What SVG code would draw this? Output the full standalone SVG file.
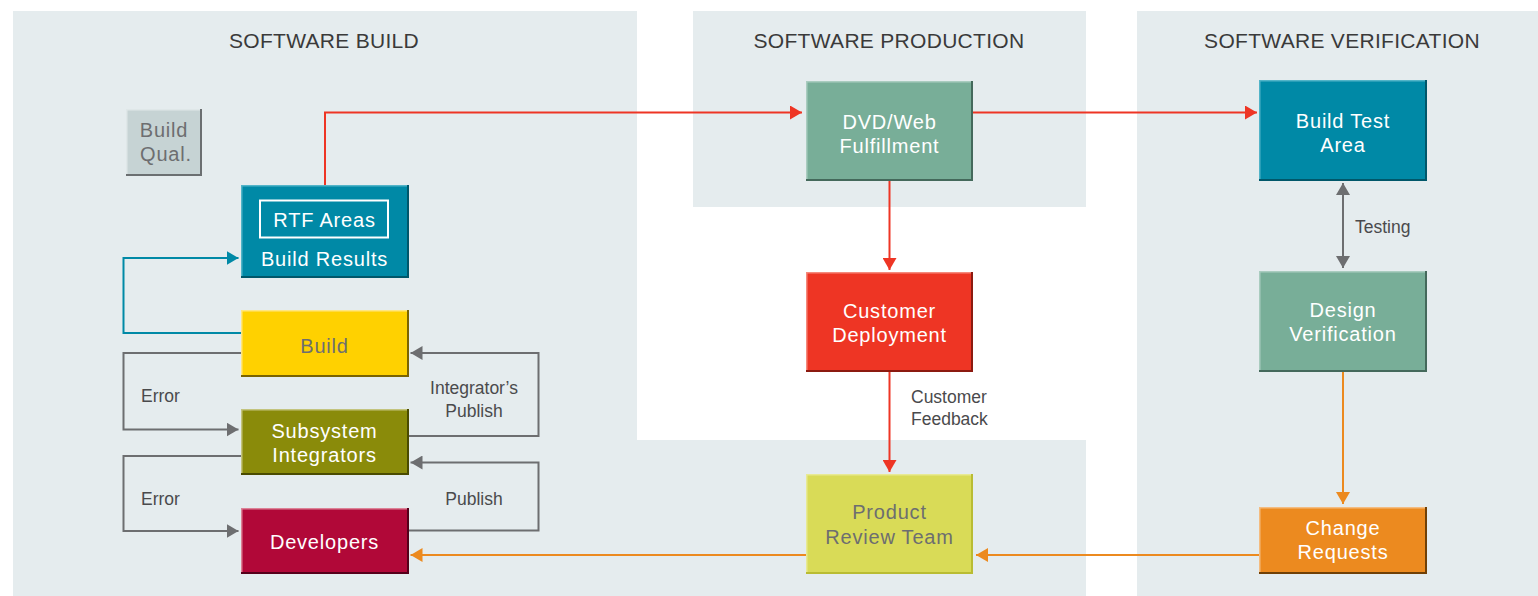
<svg xmlns="http://www.w3.org/2000/svg" width="1538" height="596" viewBox="0 0 1538 596">
<defs>
<style>
text{font-family:"Liberation Sans",Arial,Helvetica,sans-serif}
.panel{fill:#e5ecee}
.title{font-size:21px;fill:#3a3a3a;letter-spacing:0.3px;text-anchor:middle}
.nt{font-size:20px;letter-spacing:0.8px;text-anchor:middle;fill:#ffffff}
.gt{fill:#6d6e70}
.lbl{font-size:17.5px;fill:#4a4a4c}
.mid{text-anchor:middle}
.hl,.sh{fill:none}
.hl{stroke-width:1.5}
.sh{stroke-width:2}
.teal .f{fill:#0089a6}.teal .hl{stroke:#52b4c8}.teal .sh{stroke:#00576a}
.green .f{fill:#78ae98}.green .hl{stroke:#a9ccbf}.green .sh{stroke:#44695b}
.red .f{fill:#ee3524}.red .hl{stroke:#f58a7c}.red .sh{stroke:#8c1a10}
.lime .f{fill:#d9db57}.lime .hl{stroke:#e8ea94}.lime .sh{stroke:#b9bc33}
.orange .f{fill:#ec8a1f}.orange .hl{stroke:#f4bc80}.orange .sh{stroke:#704006}
.yellow .f{fill:#ffd100}.yellow .hl{stroke:#ffe680}.yellow .sh{stroke:#7a6300}
.olive .f{fill:#8a8b0a}.olive .hl{stroke:#c3c47e}.olive .sh{stroke:#4a4b00}
.crimson .f{fill:#b10838}.crimson .hl{stroke:#dc8196}.crimson .sh{stroke:#55001a}
.qual .f{fill:#c6d3d4}.qual .hl{stroke:#dfe7e8}.qual .sh{stroke:#6b6f71}
.c{fill:none;stroke-width:2}
.cr{stroke:#ee3524}.cg{stroke:#6d6e70}.co{stroke:#ec8a1f}.ct{stroke:#0089a6}
</style>
<marker id="ar" markerUnits="userSpaceOnUse" markerWidth="12" markerHeight="14" refX="12" refY="7" orient="auto"><path d="M0,0L12,7L0,14z" fill="#ee3524"/></marker>
<marker id="ag" markerUnits="userSpaceOnUse" markerWidth="12" markerHeight="14" refX="12" refY="7" orient="auto-start-reverse"><path d="M0,0L12,7L0,14z" fill="#6d6e70"/></marker>
<marker id="ao" markerUnits="userSpaceOnUse" markerWidth="12" markerHeight="14" refX="12" refY="7" orient="auto"><path d="M0,0L12,7L0,14z" fill="#ec8a1f"/></marker>
<marker id="at" markerUnits="userSpaceOnUse" markerWidth="12" markerHeight="14" refX="12" refY="7" orient="auto"><path d="M0,0L12,7L0,14z" fill="#0089a6"/></marker>
</defs>

<rect width="1538" height="596" fill="#ffffff"/>
<g id="panels">
<path class="panel" d="M13,11H637V440H1086V596H13Z"/>
<rect class="panel" x="693" y="11" width="393" height="196"/>
<rect class="panel" x="1137" y="11" width="401" height="585"/>
<text class="title" x="324" y="48">SOFTWARE BUILD</text>
<text class="title" x="889" y="48">SOFTWARE PRODUCTION</text>
<text class="title" x="1342" y="48">SOFTWARE VERIFICATION</text>
</g>

<g id="connectors">
<path class="c cr" d="M325,185V112.5H802" marker-end="url(#ar)"/>
<path class="c cr" d="M973,112.5H1257" marker-end="url(#ar)"/>
<path class="c cr" d="M889.5,181V270" marker-end="url(#ar)"/>
<path class="c cr" d="M889.5,372V472" marker-end="url(#ar)"/>
<path class="c ct" d="M241,333H123.5V258H238.5" marker-end="url(#at)"/>
<path class="c cg" d="M241,353H123.5V429.5H238.5" marker-end="url(#ag)"/>
<path class="c cg" d="M241,456H123.5V531H238.5" marker-end="url(#ag)"/>
<path class="c cg" d="M409,436H538.5V353H410.5" marker-end="url(#ag)"/>
<path class="c cg" d="M409,530.5H538.5V462.5H410.5" marker-end="url(#ag)"/>
<path class="c co" d="M806,555H410.5" marker-end="url(#ao)"/>
<path class="c co" d="M1259,555H976" marker-end="url(#ao)"/>
<path class="c co" d="M1343,372V504" marker-end="url(#ao)"/>
<path class="c cg" d="M1343,183V268" marker-start="url(#ag)" marker-end="url(#ag)"/>
<text class="lbl" x="141" y="401.5">Error</text>
<text class="lbl" x="141" y="504.5">Error</text>
<text class="lbl mid" x="474" y="394">Integrator’s</text>
<text class="lbl mid" x="474" y="416.5">Publish</text>
<text class="lbl mid" x="474" y="504.5">Publish</text>
<text class="lbl" x="911" y="402.5">Customer</text>
<text class="lbl" x="911" y="424.5">Feedback</text>
<text class="lbl" x="1355" y="232.5">Testing</text>
</g>

<g id="build-qual" class="qual">
<rect class="f" x="126" y="109" width="76" height="67"/>
<path class="hl" d="M126.75,175V109.75H201"/>
<path class="sh" d="M126,175H201V109"/>
<text class="nt gt" x="164" y="136.5">Build</text>
<text class="nt gt" x="166" y="161">Qual.</text>
</g>

<g id="build-results" class="teal">
<rect class="f" x="241" y="185" width="168" height="93"/>
<path class="hl" d="M241.75,277V185.75H408"/>
<path class="sh" d="M241,277H408V185"/>
<rect x="260" y="200.5" width="128" height="37" fill="none" stroke="#ffffff" stroke-width="2"/>
<text class="nt" x="324.5" y="226.5">RTF Areas</text>
<text class="nt" x="324.5" y="265.5">Build Results</text>
</g>

<g id="build" class="yellow">
<rect class="f" x="241" y="310" width="168" height="67"/>
<path class="hl" d="M241.75,376V310.75H408"/>
<path class="sh" d="M241,376H408V310"/>
<text class="nt gt" x="324.5" y="352.5">Build</text>
</g>

<g id="subsystem-integrators" class="olive">
<rect class="f" x="241" y="409" width="168" height="66"/>
<path class="hl" d="M241.75,474V409.75H408"/>
<path class="sh" d="M241,474H408V409"/>
<text class="nt" x="324.5" y="437.5">Subsystem</text>
<text class="nt" x="324.5" y="461.5">Integrators</text>
</g>

<g id="developers" class="crimson">
<rect class="f" x="241" y="508" width="168" height="66"/>
<path class="hl" d="M241.75,573V508.75H408"/>
<path class="sh" d="M241,573H408V508"/>
<text class="nt" x="324.5" y="548.5">Developers</text>
</g>

<g id="dvd-web" class="green">
<rect class="f" x="806" y="81" width="167" height="100"/>
<path class="hl" d="M806.75,180V81.75H972"/>
<path class="sh" d="M806,180H972V81"/>
<text class="nt" x="889.5" y="128.5">DVD/Web</text>
<text class="nt" x="889.5" y="152.5">Fulfillment</text>
</g>

<g id="customer-deployment" class="red">
<rect class="f" x="806" y="272" width="167" height="100"/>
<path class="hl" d="M806.75,371V272.75H972"/>
<path class="sh" d="M806,371H972V272"/>
<text class="nt" x="889.5" y="317.5">Customer</text>
<text class="nt" x="889.5" y="341.5">Deployment</text>
</g>

<g id="product-review" class="lime">
<rect class="f" x="806" y="474" width="167" height="100"/>
<path class="hl" d="M806.75,573V474.75H972"/>
<path class="sh" d="M806,573H972V474"/>
<text class="nt gt" x="889.5" y="519">Product</text>
<text class="nt gt" x="889.5" y="543.5">Review Team</text>
</g>

<g id="build-test-area" class="teal">
<rect class="f" x="1259" y="80" width="168" height="101"/>
<path class="hl" d="M1259.75,180V80.75H1426"/>
<path class="sh" d="M1259,180H1426V80"/>
<text class="nt" x="1343" y="127.5">Build Test</text>
<text class="nt" x="1343" y="151.5">Area</text>
</g>

<g id="design-verification" class="green">
<rect class="f" x="1259" y="271" width="168" height="101"/>
<path class="hl" d="M1259.75,371V271.75H1426"/>
<path class="sh" d="M1259,371H1426V271"/>
<text class="nt" x="1343" y="316.5">Design</text>
<text class="nt" x="1343" y="341">Verification</text>
</g>

<g id="change-requests" class="orange">
<rect class="f" x="1259" y="507" width="168" height="67"/>
<path class="hl" d="M1259.75,573V507.75H1426"/>
<path class="sh" d="M1259,573H1426V507"/>
<text class="nt" x="1343" y="535">Change</text>
<text class="nt" x="1343" y="558.5">Requests</text>
</g>
</svg>
